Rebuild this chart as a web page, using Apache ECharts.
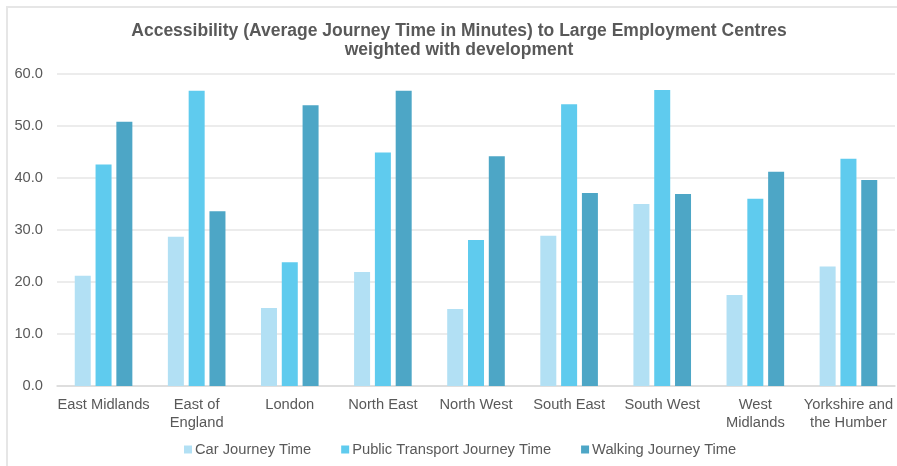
<!DOCTYPE html>
<html>
<head>
<meta charset="utf-8">
<script src="https://cdn.jsdelivr.net/npm/echarts@6/dist/echarts.min.js"></script>
<style>
  html, body { margin: 0; padding: 0; background: #fff; }
  #frame { position: absolute; left: 6px; top: 6px; width: 900px; height: 470px;
           border-left: 2px solid #e6e6e6; border-top: 2px solid #e6e6e6; }
  #chart { position: absolute; left: 0; top: 0; width: 897px; height: 466px; }
</style>
</head>
<body>
<div id="frame"></div>
<div id="chart"></div>
<script>
var regions = ['East Midlands', 'East of\nEngland', 'London', 'North East', 'North West',
    'South East', 'South West', 'West\nMidlands', 'Yorkshire and\nthe Humber'];
var carTime = [21.2, 28.7, 15.0, 21.9, 14.8, 28.9, 35.0, 17.5, 23.0];
var publicTransportTime = [42.6, 56.8, 23.8, 44.9, 28.1, 54.2, 56.9, 36.0, 43.7];
var walkingTime = [50.8, 33.6, 54.0, 56.8, 44.2, 37.1, 36.9, 41.2, 39.6];

var textColor = '#595959';
var font = 'Liberation Sans, Arial, sans-serif';
var labelSize = 14.7;

var mychart = echarts.init(document.getElementById('chart'));

function barSeries(name, data, color) {
    return {
        name: name,
        type: 'bar',
        data: data,
        barWidth: 16,
        barGap: '30%',
        itemStyle: { color: color },
        emphasis: { disabled: true }
    };
}

var option = {
    animation: false,
    textStyle: { fontFamily: font },
    title: {
        text: 'Accessibility (Average Journey Time in Minutes) to Large Employment Centres\nweighted with development',
        left: 454,
        textAlign: 'center',
        top: 17,
        textStyle: {
            color: textColor,
            fontFamily: font,
            fontSize: 17.5,
            fontWeight: 'bold',
            lineHeight: 19
        }
    },
    legend: {
        bottom: 4,
        left: 179,
        itemWidth: 8,
        itemHeight: 8,
        itemGap: 30,
        icon: 'rect',
        textStyle: { color: textColor, fontSize: labelSize, fontFamily: font, padding: [0, 0, 0, -2] }
    },
    grid: {
        left: 57,
        right: 2,
        top: 74,
        bottom: 80
    },
    xAxis: {
        type: 'category',
        data: regions,
        axisLine: { lineStyle: { color: '#d9d9d9', width: 1.5 } },
        axisTick: { show: false },
        axisLabel: {
            color: textColor,
            fontSize: labelSize,
            fontFamily: font,
            margin: 10,
            lineHeight: 18,
            interval: 0
        }
    },
    yAxis: {
        type: 'value',
        min: 0,
        max: 60,
        interval: 10,
        axisLine: { show: false },
        axisTick: { show: false },
        splitLine: { lineStyle: { color: '#e6e6e6', width: 1.5 } },
        axisLabel: {
            color: textColor,
            fontSize: labelSize,
            fontFamily: font,
            margin: 14,
            formatter: function (v) { return v.toFixed(1); }
        }
    },
    series: [
        barSeries('Car Journey Time', carTime, '#b2e0f4'),
        barSeries('Public Transport Journey Time', publicTransportTime, '#5fcbee'),
        barSeries('Walking Journey Time', walkingTime, '#4da6c6')
    ]
};

mychart.setOption(option);
</script>
</body>
</html>
